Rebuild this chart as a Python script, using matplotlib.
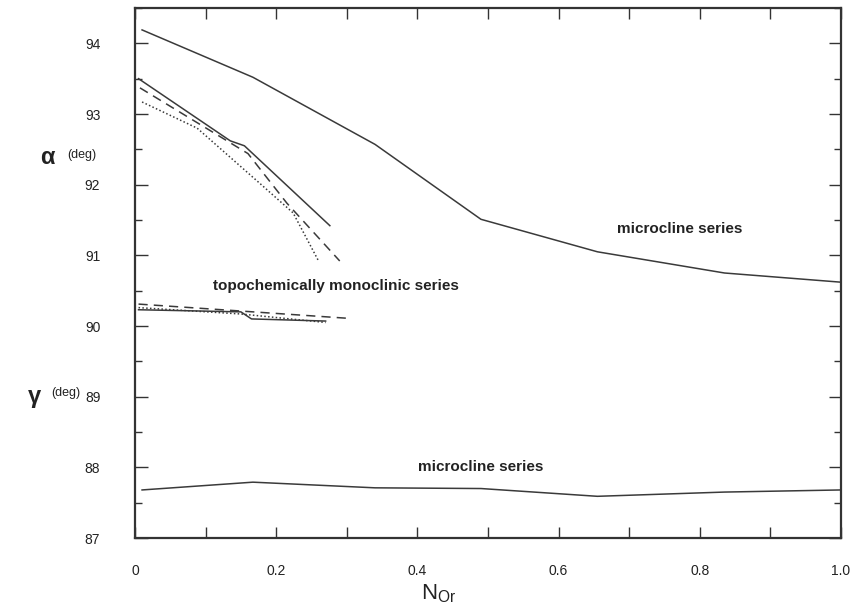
import matplotlib
matplotlib.use("Agg")
import matplotlib.pyplot as plt
from matplotlib.ticker import MultipleLocator

plt.rcParams['font.family'] = ['Liberation Sans', 'DejaVu Sans']

# microcline series
mic_x = [0.01, 0.167, 0.34, 0.49, 0.655, 0.835, 1.0]
mic_alpha = [94.19, 93.52, 92.57, 91.51, 91.05, 90.75, 90.62]
mic_gamma_x = [0.01, 0.167, 0.34, 0.49, 0.655, 0.835, 1.0]
mic_gamma = [87.68, 87.79, 87.71, 87.70, 87.59, 87.65, 87.68]

# topochemically monoclinic series, alpha
topo_a_solid_x = [0.005, 0.135, 0.155, 0.276]
topo_a_solid = [93.50, 92.62, 92.55, 91.42]
topo_a_dash_x = [0.007, 0.16, 0.215, 0.29]
topo_a_dash = [93.37, 92.44, 91.74, 90.92]
topo_a_dot_x = [0.01, 0.088, 0.18, 0.224, 0.26]
topo_a_dot = [93.17, 92.80, 91.99, 91.60, 90.92]

# topochemically monoclinic series, gamma
topo_g_solid_x = [0.005, 0.15, 0.165, 0.27]
topo_g_solid = [90.23, 90.20, 90.10, 90.07]
topo_g_dash_x = [0.005, 0.30]
topo_g_dash = [90.31, 90.11]
topo_g_dot_x = [0.005, 0.15, 0.27]
topo_g_dot = [90.26, 90.17, 90.05]

xticks = [0, 0.2, 0.4, 0.6, 0.8, 1.0]
xticklabels = ['0', '0.2', '0.4', '0.6', '0.8', '1.0']
yticks = [87, 88, 89, 90, 91, 92, 93, 94]

fig = plt.figure(figsize=(8.54, 6.09), dpi=100)
ax = fig.add_axes([135/854, 1-538/609, (841-135)/854, (538-8)/609])

lc = '#3a3a3a'
lw = 1.1
ax.plot(mic_x, mic_alpha, color=lc, lw=lw)
ax.plot(mic_gamma_x, mic_gamma, color=lc, lw=lw)
ax.plot(topo_a_solid_x, topo_a_solid, color=lc, lw=lw)
ax.plot(topo_a_dash_x, topo_a_dash, color=lc, lw=lw, ls=(0, (6, 4)))
ax.plot(topo_a_dot_x, topo_a_dot, color=lc, lw=lw, ls=(0, (1, 1.5)))
ax.plot(topo_g_solid_x, topo_g_solid, color=lc, lw=lw)
ax.plot(topo_g_dash_x, topo_g_dash, color=lc, lw=lw, ls=(0, (6, 4)))
ax.plot(topo_g_dot_x, topo_g_dot, color=lc, lw=lw, ls=(0, (1, 1.5)))

ax.set_xlim(0, 1.0)
ax.set_ylim(87, 94.5)

ax.set_xticks(xticks)
ax.set_xticklabels(xticklabels)
ax.xaxis.set_minor_locator(MultipleLocator(0.1))
ax.set_yticks(yticks)
ax.set_yticklabels([str(v) for v in yticks])
ax.yaxis.set_minor_locator(MultipleLocator(0.5))

ax.tick_params(which='both', direction='in', top=True, right=True, colors='#333333',
               labelcolor='#222222', labelsize=10)
ax.tick_params(axis='x', which='major', length=8, width=1, pad=19)
ax.tick_params(axis='x', which='minor', length=8, width=1)
ax.tick_params(axis='y', which='major', length=9, width=1, pad=25)
ax.tick_params(axis='y', which='minor', length=5, width=1)

for s in ax.spines.values():
    s.set_linewidth(1.6)
    s.set_color('#333333')

txtkw = dict(fontsize=11, fontweight='bold', color='#222222')
ax.text(0.772, 91.37, 'microcline series', ha='center', va='center', **txtkw)
ax.text(0.489, 88.0, 'microcline series', ha='center', va='center', **txtkw)
ax.text(0.285, 90.57, 'topochemically monoclinic series', ha='center', va='center', **txtkw)

fig.text(47/854, 1-157/609, 'α', fontsize=17, fontweight='bold', ha='center', va='center', color='#222222')
fig.text(82/854, 1-155/609, '(deg)', fontsize=9, ha='center', va='center', color='#222222')
fig.text(34/854, 1-396/609, 'γ', fontsize=17, fontweight='bold', ha='center', va='center', color='#222222')
fig.text(66/854, 1-393/609, '(deg)', fontsize=9, ha='center', va='center', color='#222222')

fig.text(439/854, 1-594/609, r'$\mathregular{N_{Or}}$', fontsize=16, ha='center', va='center', color='#222222')

fig.savefig('out.png', dpi=100)
